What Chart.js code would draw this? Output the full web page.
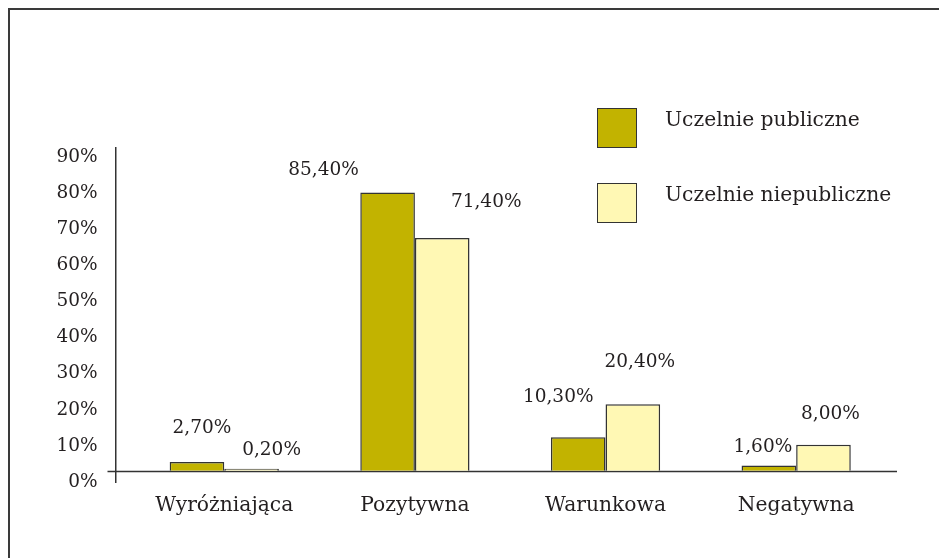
<!DOCTYPE html>
<html>
<head>
<meta charset="utf-8">
<script src="https://cdn.jsdelivr.net/npm/chart.js@4.4.1/dist/chart.umd.min.js"></script>
<style>
  html, body { margin: 0; padding: 0; background: #fff; }
  #wrap { position: relative; width: 939px; height: 558px; overflow: hidden; }
  #frame { position: absolute; left: 8px; top: 8px; width: 940px; height: 560px;
           border-top: 2px solid #3a3a3a; border-left: 2px solid #3a3a3a; box-sizing: border-box; }
  #c { position: absolute; left: 0; top: 0; }
  #legend { position: absolute; left: 597px; top: 108px; font-family: 'DejaVu Serif', serif;
            font-size: 20.3px; color: #231f20; }
  .item { position: absolute; left: 0; width: 330px; height: 41px; white-space: nowrap; }
  .box { position: absolute; left: 0; top: 0; width: 38px; height: 38px; border: 1.5px solid #333; }
  .txt { position: absolute; left: 68px; top: -1px; line-height: 24px; }
</style>
</head>
<body>
<div id="wrap">
  <div id="frame"></div>
  <canvas id="c" width="939" height="558"></canvas>
  <div id="legend"></div>
</div>
<script>
// ---- data ----
const categories = ['Wyróżniająca', 'Pozytywna', 'Warunkowa', 'Negatywna'];
const seriesNames = ['Uczelnie publiczne', 'Uczelnie niepubliczne'];
const publicValues = [2.7, 85.4, 10.3, 1.6];
const nonPublicValues = [0.2, 71.4, 20.4, 8.0];
const yTickValues = [0, 10, 20, 30, 40, 50, 60, 70, 80, 90];

// ---- styling / label placement ----
const colors = ['#c2b300', '#fff8b4'];
const FONT = "'DejaVu Serif', serif";
const FSIZE = 18.5;      // numbers
const FSIZE_TXT = 20.3;  // words
const TEXT = '#231f20';
// offsets of value labels relative to the top-centre of each bar [dx, dy]
const labelOffsets = [
  [[5, -34], [-64, -22], [-20, -40], [-6, -18]],
  [[20, -20], [44, -36], [7, -42], [7, -30]]
];

function fmt(v) { return v.toFixed(2).replace('.', ',') + '%'; }

const valueLabels = {
  id: 'valueLabels',
  afterDatasetsDraw(chart) {
    const ctx = chart.ctx;
    ctx.save();
    ctx.font = FSIZE + 'px ' + FONT;
    ctx.fillStyle = TEXT;
    ctx.textAlign = 'center';
    ctx.textBaseline = 'middle';
    chart.data.datasets.forEach((ds, di) => {
      chart.getDatasetMeta(di).data.forEach((bar, i) => {
        const off = labelOffsets[di][i];
        const top = chart.scales.y.getPixelForValue(ds.data[i].y);
        ctx.fillText(fmt(ds.data[i].y), bar.x + off[0], top + off[1]);
      });
    });
    ctx.restore();
  }
};

const zeroLine = {
  id: 'zeroLine',
  beforeDatasetsDraw(chart) {
    const ctx = chart.ctx, a = chart.chartArea;
    const y = Math.round(chart.scales.y.getPixelForValue(0)) + 0.5;
    ctx.save();
    ctx.strokeStyle = '#333';
    ctx.lineWidth = 1.5;
    ctx.beginPath();
    ctx.moveTo(a.left - 8, y);
    ctx.lineTo(a.right, y);
    ctx.stroke();
    ctx.restore();
  }
};

const toPoints = arr => arr.map((v, i) => ({ x: i, y: v }));

const chart = new Chart(document.getElementById('c'), {
  type: 'bar',
  data: {
    datasets: [
      { label: seriesNames[0], data: toPoints(publicValues), backgroundColor: colors[0],
        borderColor: '#333', borderWidth: 1.5, minBarLength: 2, yAxisID: 'y' },
      { label: seriesNames[1], data: toPoints(nonPublicValues), backgroundColor: colors[1],
        borderColor: '#333', borderWidth: 1.5, minBarLength: 2, yAxisID: 'y' }
    ]
  },
  options: {
    responsive: false,
    animation: false,
    events: [],
    categoryPercentage: 0.573,
    barPercentage: 1.0,
    layout: { padding: { top: 148, right: 42, left: 0, bottom: 0 } },
    plugins: { legend: { display: false }, tooltip: { enabled: false } },
    scales: {
      x: {
        type: 'linear',
        offset: false,
        min: -0.5706,
        max: 3.529,
        afterBuildTicks: s => { s.ticks = categories.map((c, i) => ({ value: i })); },
        afterFit: s => { s.height = 75.5; },
        grid: { display: false },
        border: { display: false },
        ticks: {
          autoSkip: false, maxRotation: 0, padding: 3,
          color: TEXT, font: { family: FONT, size: FSIZE_TXT },
          callback: v => categories[v]
        }
      },
      y: {
        display: false,
        min: -3.62,
        max: 99.02
      },
      yl: {
        position: 'left',
        min: -0.14,
        max: 92.49,
        afterBuildTicks: s => { s.ticks = yTickValues.map(v => ({ value: v })); },
        afterFit: s => { s.width = 115.5; },
        grid: { display: false, drawTicks: false },
        border: { display: true, color: '#333', width: 1.5 },
        ticks: {
          padding: 18, color: TEXT, font: { family: FONT, size: FSIZE },
          callback: v => v + '%'
        }
      }
    }
  },
  plugins: [zeroLine, valueLabels]
});

// HTML legend built from the chart's datasets
const legend = document.getElementById('legend');
chart.data.datasets.forEach((ds, i) => {
  const item = document.createElement('div');
  item.className = 'item';
  item.style.top = (i * 75) + 'px';
  const box = document.createElement('div');
  box.className = 'box';
  box.style.background = ds.backgroundColor;
  const txt = document.createElement('div');
  txt.className = 'txt';
  txt.textContent = ds.label;
  item.appendChild(box); item.appendChild(txt);
  legend.appendChild(item);
});
</script>
</body>
</html>
